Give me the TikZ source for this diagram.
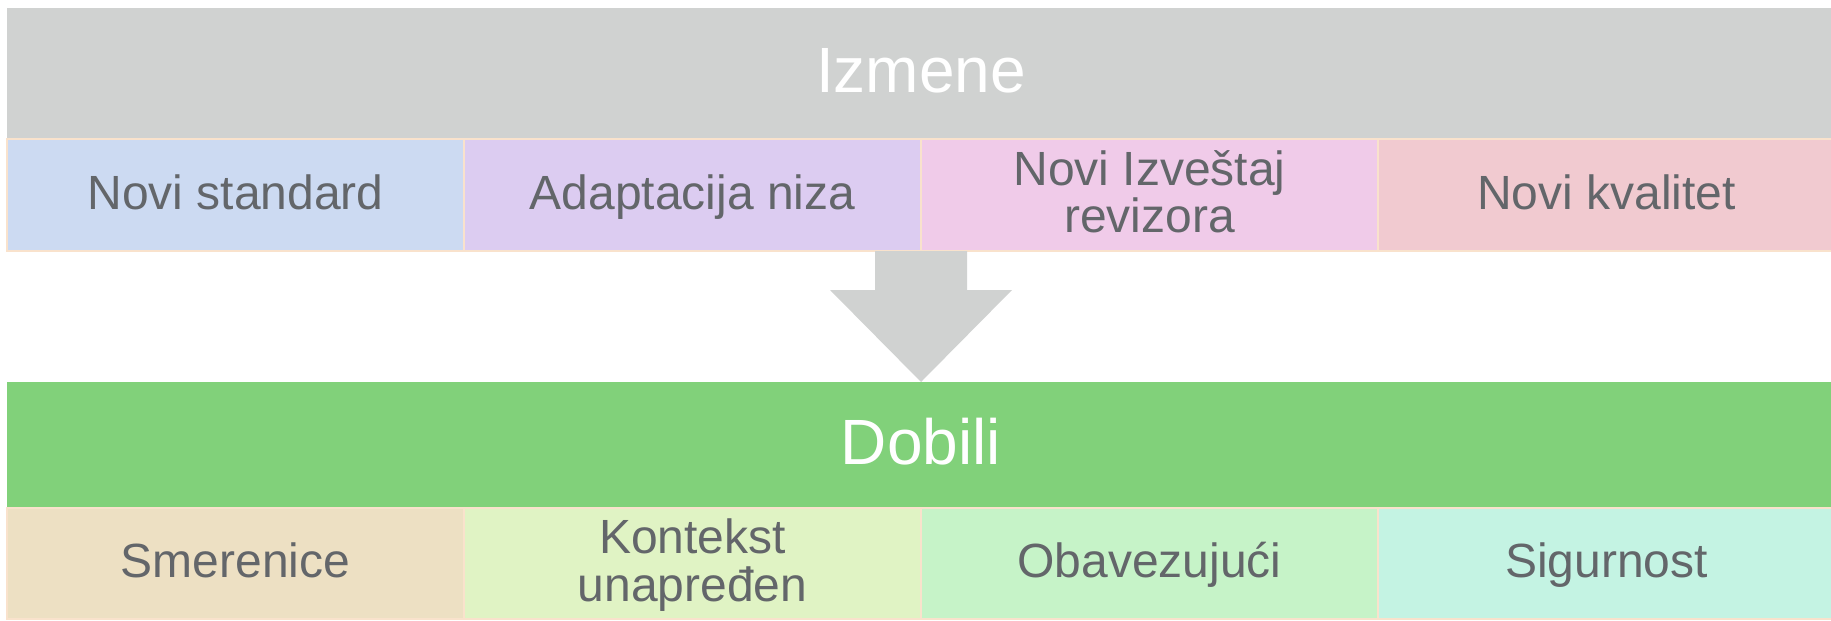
\documentclass[tikz,border=0pt]{standalone}
\usepackage{fontspec}
\setmainfont{Liberation Sans}
\usetikzlibrary{positioning}

\definecolor{izmgray}{HTML}{D0D2D1}
\definecolor{dobgreen}{HTML}{81D17A}
\definecolor{cellline}{HTML}{F9E2CC}
\definecolor{celltext}{HTML}{63666A}
\definecolor{cblue}{HTML}{CCDAF2}
\definecolor{cpurple}{HTML}{DCCCF1}
\definecolor{cpink}{HTML}{F0CBE9}
\definecolor{crose}{HTML}{F1CAD0}
\definecolor{cbeige}{HTML}{EDE0C3}
\definecolor{clime}{HTML}{E0F3C4}
\definecolor{cgreen}{HTML}{C6F3C8}
\definecolor{cmint}{HTML}{C4F3E3}

\tikzset{
  bar/.style={minimum width=1828pt, inner sep=0pt, outer sep=0pt, text=white,
    text height=46pt, text depth=7.6pt, font=\fontsize{64}{64}\selectfont},
  cell/.style={draw=cellline, line width=2pt, minimum width=457pt, minimum height=112pt,
    inner sep=0pt, outer sep=0pt, text=celltext, align=center,
    text height=34pt, text depth=6pt, font=\fontsize{48}{47.6}\selectfont},
  twoline/.style={text height=81.6pt},
}

\begin{document}
\begin{tikzpicture}[x=1pt,y=-1pt]
\useasboundingbox (0,0) rectangle (1831,621);
\clip (0,0) rectangle (1831,621);
%\draw[gray] (0,0) grid[step=100] (1831,621);

% Izmene
\node[bar, fill=izmgray, minimum height=131pt] (izmene) at (921,73.5) {Izmene};
\node[cell, fill=cblue, anchor=north west] (standard) at (izmene.south west) {Novi standard};
\node[cell, fill=cpurple, right=0pt of standard] (niza) {Adaptacija niza};
\node[cell, twoline, fill=cpink, right=0pt of niza] (izvestaj) {Novi Izveštaj\\revizora};
\node[cell, fill=crose, right=0pt of izvestaj] (kvalitet) {Novi kvalitet};

% Dobili
\node[bar, fill=dobgreen, minimum height=126pt] (dobili) at (921,445) {Dobili};
\node[cell, fill=cbeige, minimum height=111pt, anchor=north west] (smernice) at (dobili.south west) {Smerenice};
\node[cell, twoline, fill=clime, minimum height=111pt, right=0pt of smernice] (kontekst) {Kontekst\\unapređen};
\node[cell, fill=cgreen, minimum height=111pt, right=0pt of kontekst] (obavezujuci) {Obavezujući};
\node[cell, fill=cmint, minimum height=111pt, right=0pt of obavezujuci] (sigurnost) {Sigurnost};

% arrow
\fill[izmgray] ([xshift=-46pt]niza.south east) -- ([xshift=46pt]niza.south east)
  -- ([shift={(46,39)}]niza.south east) -- ([shift={(91,39)}]niza.south east)
  -- (dobili.north) -- ([shift={(-91,39)}]niza.south east)
  -- ([shift={(-46,39)}]niza.south east) -- cycle;
\end{tikzpicture}
\end{document}
